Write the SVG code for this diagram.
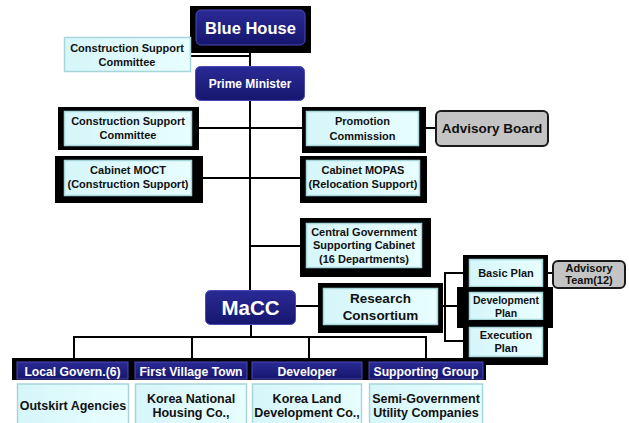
<svg xmlns="http://www.w3.org/2000/svg" width="629" height="423" viewBox="0 0 629 423">
  <defs>
    <linearGradient id="navy" x1="0" y1="0" x2="0" y2="1">
      <stop offset="0" stop-color="#2a2a96"/>
      <stop offset="1" stop-color="#16166e"/>
    </linearGradient>
    <linearGradient id="cyan" x1="0" y1="0" x2="1" y2="0">
      <stop offset="0" stop-color="#d6f6fa"/>
      <stop offset="1" stop-color="#e8feff"/>
    </linearGradient>
  </defs>
  <style>
    text { font-family: "Liberation Sans", Arial, sans-serif; font-weight: bold; text-anchor: middle; }
    .navy { fill: url(#navy); stroke: #4a4ab8; stroke-width: 1; }
    .cyan { fill: url(#cyan); stroke: #a6d6da; stroke-width: 1.5; }
    .gray { fill: #c4c4c4; stroke: #1a1a1a; stroke-width: 2; }
    .shadow { fill: #000; }
    .wt { fill: #fff; }
    .bt { fill: #111; font-size: 11px; }
    .bl { fill: #111; font-size: 12.5px; }
    .hd { fill: #fff; font-size: 12.2px; }
    .ln { stroke: #000; stroke-width: 2; fill: none; }
  </style>

  <!-- connectors -->
  <g id="connectors">
    <path class="ln" d="M250 45 V290"/>
    <path class="ln" d="M191 56 H250"/>
    <path class="ln" d="M192 128 H306"/>
    <path class="ln" d="M419 128 H436"/>
    <path class="ln" d="M192 178 H306"/>
    <path class="ln" d="M250 246 H306"/>
    <path class="ln" d="M296 306 H323"/>
    <path class="ln" d="M438 306 H469"/>
    <path class="ln" d="M469 273 H445 V341 H469"/>
    <path class="ln" d="M543 273 H553"/>
    <path class="ln" d="M251 324 V337"/>
    <path class="ln" d="M74 360 V337 H426 V360"/>
    <path class="ln" d="M192 337 V360"/>
    <path class="ln" d="M309 337 V360"/>
  </g>

  <g id="blue-house">
    <rect class="shadow" x="190" y="6" width="121" height="47"/>
    <rect class="navy" x="196" y="10" width="109" height="35" rx="5"/>
    <text class="wt" x="250.5" y="34" style="font-size:16.5px">Blue House</text>
  </g>

  <g id="construction-support-committee-1">
    <rect class="cyan" x="64.5" y="37.5" width="126" height="34"/>
    <text class="bt" x="127" y="52">Construction Support</text>
    <text class="bt" x="127" y="65.5">Committee</text>
  </g>

  <g id="prime-minister">
    <rect class="navy" x="195.5" y="66.5" width="109" height="34" rx="5"/>
    <text class="wt" x="250" y="88" style="font-size:12px">Prime Minister</text>
  </g>

  <g id="construction-support-committee-2">
    <rect class="shadow" x="58" y="107" width="141" height="43"/>
    <rect class="cyan" x="64.5" y="111.5" width="127" height="34"/>
    <text class="bt" x="128" y="125">Construction Support</text>
    <text class="bt" x="128" y="139">Committee</text>
  </g>

  <g id="promotion-commission">
    <rect class="shadow" x="302" y="107" width="124" height="46"/>
    <rect class="cyan" x="306.5" y="111.5" width="112" height="34"/>
    <text class="bt" x="362.5" y="125">Promotion</text>
    <text class="bt" x="362.5" y="139.5">Commission</text>
  </g>

  <g id="advisory-board">
    <rect class="gray" x="436" y="111" width="112" height="35" rx="5"/>
    <text class="bt" x="492" y="133" style="font-size:13.5px">Advisory Board</text>
  </g>

  <g id="cabinet-moct">
    <rect class="shadow" x="55" y="156" width="148" height="47"/>
    <rect class="cyan" x="64.5" y="160.5" width="127" height="35"/>
    <text class="bt" x="128" y="174">Cabinet MOCT</text>
    <text class="bt" x="128" y="188">(Construction Support)</text>
  </g>

  <g id="cabinet-mopas">
    <rect class="shadow" x="300" y="156" width="127" height="47"/>
    <rect class="cyan" x="306.5" y="160.5" width="113" height="35"/>
    <text class="bt" x="363" y="174">Cabinet MOPAS</text>
    <text class="bt" x="363" y="188">(Relocation Support)</text>
  </g>

  <g id="central-government">
    <rect class="shadow" x="300" y="218" width="131" height="59"/>
    <rect class="cyan" x="306.5" y="223.5" width="115" height="44"/>
    <text class="bt" x="364" y="235.5">Central Government</text>
    <text class="bt" x="364" y="249">Supporting Cabinet</text>
    <text class="bt" x="364" y="262.5">(16 Departments)</text>
  </g>

  <g id="basic-plan">
    <rect class="shadow" x="463" y="255" width="85" height="36"/>
    <rect class="cyan" x="469.5" y="259.5" width="73" height="27"/>
    <text class="bt" x="506" y="277">Basic Plan</text>
  </g>

  <g id="advisory-team">
    <rect class="gray" x="553" y="261" width="72" height="27" rx="5"/>
    <text class="bt" x="589" y="272">Advisory</text>
    <text class="bt" x="589" y="284">Team(12)</text>
  </g>

  <g id="development-plan">
    <rect class="shadow" x="457" y="287" width="96" height="41"/>
    <rect class="cyan" x="469.5" y="292.5" width="73" height="27"/>
    <text class="bt" x="506" y="304" style="font-size:10.5px">Development</text>
    <text class="bt" x="506" y="317" style="font-size:10.5px">Plan</text>
  </g>

  <g id="execution-plan">
    <rect class="shadow" x="463" y="320" width="85" height="45"/>
    <rect class="cyan" x="469.5" y="327.5" width="73" height="29"/>
    <text class="bt" x="506" y="339">Execution</text>
    <text class="bt" x="506" y="352">Plan</text>
  </g>

  <g id="macc">
    <rect class="navy" x="205.5" y="290.5" width="90" height="34" rx="5"/>
    <text class="wt" x="250.5" y="315" style="font-size:20.5px">MaCC</text>
  </g>

  <g id="research-consortium">
    <rect class="shadow" x="318" y="283" width="125" height="50"/>
    <rect class="cyan" x="323.5" y="288.5" width="114" height="36"/>
    <text class="bt" x="380.5" y="303" style="font-size:13.5px">Research</text>
    <text class="bt" x="380.5" y="319.5" style="font-size:13.5px">Consortium</text>
  </g>

  <!-- bottom band behind the four group headers -->
  <rect class="shadow" x="12" y="358" width="474" height="22"/>

  <g id="local-govern">
    <rect class="navy" x="17" y="362" width="111" height="17"/>
    <text class="hd" x="72.5" y="375.5">Local Govern.(6)</text>
    <rect class="cyan" x="17.5" y="384" width="111" height="42"/>
    <text class="bl" x="73" y="409.5">Outskirt Agencies</text>
  </g>

  <g id="first-village-town">
    <rect class="navy" x="135" y="362" width="112" height="17"/>
    <text class="hd" x="191" y="375.5">First Village Town</text>
    <rect class="cyan" x="135.5" y="384" width="111" height="42"/>
    <text class="bl" x="191" y="403">Korea National</text>
    <text class="bl" x="191" y="416.5">Housing Co.,</text>
  </g>

  <g id="developer">
    <rect class="navy" x="252" y="362" width="110" height="17"/>
    <text class="hd" x="307" y="375.5">Developer</text>
    <rect class="cyan" x="252.5" y="384" width="109" height="42"/>
    <text class="bl" x="307" y="403">Korea Land</text>
    <text class="bl" x="307" y="416.5">Development Co.,</text>
  </g>

  <g id="supporting-group">
    <rect class="navy" x="369" y="362" width="114" height="17"/>
    <text class="hd" x="426" y="375.5">Supporting Group</text>
    <rect class="cyan" x="369.5" y="384" width="113" height="42"/>
    <text class="bl" x="426" y="403">Semi-Government</text>
    <text class="bl" x="426" y="416.5">Utility Companies</text>
  </g>
</svg>
